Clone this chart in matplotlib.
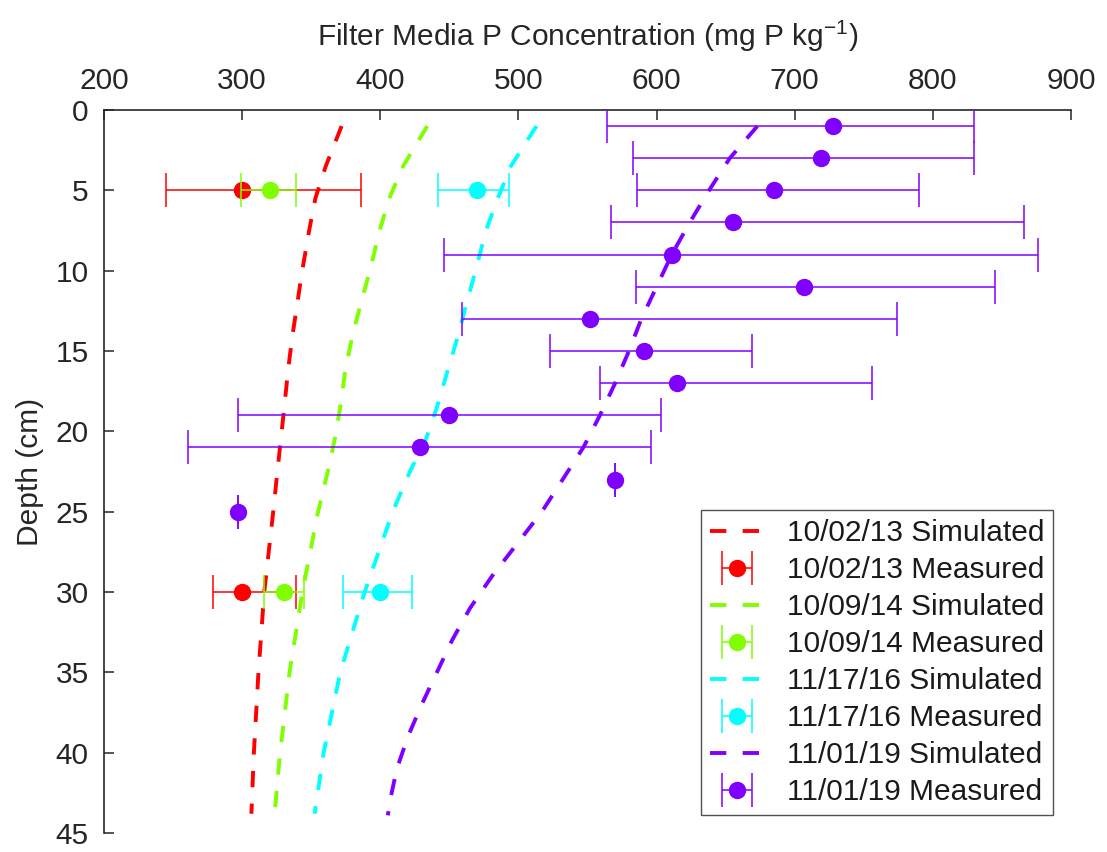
import matplotlib
matplotlib.use("Agg")
import matplotlib.pyplot as plt

plt.rcParams['font.family'] = ['Liberation Sans', 'DejaVu Sans']
plt.rcParams['mathtext.fontset'] = 'custom'
plt.rcParams['mathtext.rm'] = 'Liberation Sans'
plt.rcParams['mathtext.it'] = 'Liberation Sans'
plt.rcParams['mathtext.default'] = 'regular'

# Sampling dates and their colours
dates = ["10/02/13", "10/09/14", "11/17/16", "11/01/19"]
colors = ["#FF0000", "#80FF00", "#00FFFF", "#8000FF"]

# Simulated profiles (depth in cm, concentration in mg P/kg)
sim_depth_a = [1, 3.5, 5.5, 7.5, 10, 12, 14, 16, 18.5, 20.5, 22.5, 25, 30,
               35, 40, 43.8]
sim_2013 = [372, 360.5, 353, 348.5, 343.5, 340, 336.5, 333.5, 330.5, 328,
            325.5, 322.5, 316, 311.8, 308.5, 306.7]
sim_2014 = [434, 416.5, 406.5, 399.5, 392.5, 386, 380, 375, 371, 367, 362,
            355, 343.6, 334.3, 327.5, 323.5]
sim_2016 = [513, 494.5, 485, 476.5, 469, 462.5, 456.5, 449.5, 441, 433,
            421.5, 409, 388.7, 371, 359, 352.5]
sim_depth_b = [1, 3, 5, 7, 9, 11, 13, 15, 17, 19, 21, 23, 25, 27, 29, 31,
               33, 35, 37, 39, 41, 43, 43.9]
sim_2019 = [673, 653, 638, 624, 611, 600, 589, 580, 570, 559, 547, 532,
            517, 499, 481, 465, 452, 441, 430, 420, 412, 407, 405.5]

# Measured profiles: depth, mean, lower and upper error
meas_depth_2013 = [5, 30]
meas_2013 = [300, 300]
lo_2013 = [55, 21]
hi_2013 = [86, 39]

meas_depth_2014 = [5, 30]
meas_2014 = [320, 330]
lo_2014 = [21, 14]
hi_2014 = [19, 15]

meas_depth_2016 = [5, 30]
meas_2016 = [470, 400]
lo_2016 = [28, 27]
hi_2016 = [23, 23]

meas_depth_2019 = [1, 3, 5, 7, 9, 11, 13, 15, 17, 19, 21, 23, 25]
meas_2019 = [728, 719, 685, 655, 611, 707, 552, 591, 615, 450, 429, 570, 297]
lo_2019 = [164, 136, 99, 88, 165, 122, 93, 68, 56, 153, 168, 0, 0]
hi_2019 = [102, 111, 105, 211, 265, 138, 222, 78, 141, 153, 167, 0, 0]

sim_depths = [sim_depth_a, sim_depth_a, sim_depth_a, sim_depth_b]
sims = [sim_2013, sim_2014, sim_2016, sim_2019]
meas_depths = [meas_depth_2013, meas_depth_2014, meas_depth_2016, meas_depth_2019]
meas = [meas_2013, meas_2014, meas_2016, meas_2019]
los = [lo_2013, lo_2014, lo_2016, lo_2019]
his = [hi_2013, hi_2014, hi_2016, hi_2019]

fig = plt.figure(figsize=(11.07, 8.52), dpi=100)
ax = fig.add_axes([104 / 1107, 1 - 833 / 852, (1071 - 104) / 1107, (833 - 110) / 852])

handles = []
labels = []
z = 2
for d, c, sd, sv, md, mv, lo, hi in zip(dates, colors, sim_depths, sims,
                                        meas_depths, meas, los, his):
    line, = ax.plot(sv, sd, color=c, lw=2.8, dashes=(4.2, 4.2), zorder=z)
    z += 1
    eb = ax.errorbar(mv, md, xerr=[lo, hi], fmt='o', color=c, ms=11.5,
                     elinewidth=1.1, capsize=12.5, capthick=1.1, zorder=z)
    z += 1
    handles += [line, eb]
    labels += [f"{d} Simulated", f"{d} Measured"]

ax.set_xlim(200, 900)
ax.set_ylim(45, 0)
ax.set_xticks(range(200, 901, 100))
ax.set_yticks(range(0, 46, 5))
ax.xaxis.tick_top()
ax.xaxis.set_label_position('top')
for s in ['right', 'bottom']:
    ax.spines[s].set_visible(False)
for s in ['left', 'top']:
    ax.spines[s].set_color('#262626')
    ax.spines[s].set_linewidth(1.2)
ax.tick_params(direction='in', length=7, width=1.1, colors='#262626',
               labelsize=21.5, pad=11, labelcolor='#262626')

ax.set_xlabel("Filter Media P Concentration (mg P kg$^{-1}$)", fontsize=21.5,
              color='#262626', labelpad=15)
ax.set_ylabel("Depth (cm)", fontsize=21.5, color='#262626', labelpad=8)

leg = ax.legend(handles, labels, loc='lower right',
                bbox_to_anchor=(1 - 18 / 967, 18 / 723), fontsize=21.5,
                frameon=True, fancybox=False, edgecolor='#262626',
                handlelength=1.8, handletextpad=0.75, labelspacing=0.3,
                borderpad=0.3, borderaxespad=0)
leg.get_frame().set_linewidth(1.0)
for t in leg.get_texts():
    t.set_color('#1a1a1a')

fig.savefig("out.png", dpi=100)
